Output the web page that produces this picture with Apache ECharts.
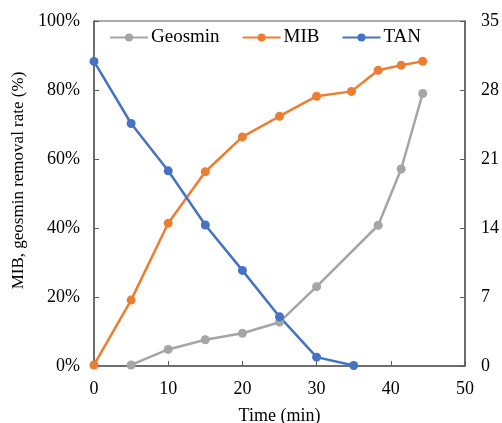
<!DOCTYPE html>
<html><head><meta charset="utf-8">
<script src="https://cdn.jsdelivr.net/npm/echarts@6/dist/echarts.min.js"></script>
<style>html,body{margin:0;padding:0;background:#fff}#c{width:502px;height:423px}</style>
</head><body><div id="c"></div>
<script>
var geosminTime = [5, 10, 15, 20, 25, 30, 38.3, 41.4, 44.3];
var geosminRate = [0.3, 4.8, 7.6, 9.5, 12.7, 23.0, 40.8, 57.1, 79.0];
var mibTime = [0, 5, 10, 15, 20, 25, 30, 34.7, 38.3, 41.4, 44.3];
var mibRate = [0.3, 19.1, 41.4, 56.3, 66.4, 72.4, 78.2, 79.6, 85.7, 87.2, 88.3];
var tanTime = [0, 5, 10, 15, 20, 25, 30, 35];
var tanValue = [30.9, 24.6, 19.8, 14.3, 9.7, 5.0, 0.9, 0.05];
var leftTicks = ['0%', '20%', '40%', '60%', '80%', '100%'];
var rightTicks = ['0', '7', '14', '21', '28', '35'];

function pairs(xs, ys){ return xs.map(function(x,i){ return [x, ys[i]]; }); }
var font = 'Liberation Serif';
var axisCol = '#595959';
var chart = echarts.init(document.getElementById('c'), null, {renderer:'canvas'});
chart.setOption({
  animation: false,
  textStyle: {fontFamily: font},
  grid: {left: 94, right: 37, top: 21, bottom: 57, show: true, borderColor: axisCol, borderWidth: 1,
         containLabel: false, outerBoundsMode: 'none'},
  legend: {
    top: 23, left: 104, itemWidth: 38, itemHeight: 10, itemGap: 22,
    textStyle: {fontFamily: font, fontSize: 19, color: '#000', padding: [0,0,0,-2]},
    data: ['Geosmin', 'MIB', 'TAN']
  },
  xAxis: {
    type: 'value', min: 0, max: 50, interval: 10,
    name: 'Time (min)', nameLocation: 'middle', nameGap: 41,
    nameTextStyle: {fontFamily: font, fontSize: 18, color: '#000'},
    axisLine: {lineStyle: {color: axisCol, width: 1.5}},
    axisTick: {inside: true, length: 5, lineStyle: {color: axisCol}},
    axisLabel: {fontFamily: font, fontSize: 18, color: '#000', margin: 14},
    splitLine: {show: false}
  },
  yAxis: [{
    type: 'value', min: 0, max: 100, interval: 20, position: 'left',
    name: 'MIB, geosmin removal rate (%)', nameLocation: 'middle', nameGap: 54,
    nameTextStyle: {fontFamily: font, fontSize: 17, color: '#000', padding: [0,0,0,26]},
    axisLine: {show: true, lineStyle: {color: axisCol, width: 1.5}},
    axisTick: {show: true, inside: true, length: 5, lineStyle: {color: axisCol}},
    axisLabel: {fontFamily: font, fontSize: 18, color: '#000', margin: 14,
      formatter: function(v){ return leftTicks[Math.round(v/20)]; }},
    splitLine: {show: false}
  }, {
    type: 'value', min: 0, max: 35, interval: 7, position: 'right',
    axisLine: {show: true, lineStyle: {color: axisCol, width: 1.5}},
    axisTick: {show: true, inside: true, length: 5, lineStyle: {color: axisCol}},
    axisLabel: {fontFamily: font, fontSize: 18, color: '#000', margin: 16,
      formatter: function(v){ return rightTicks[Math.round(v/7)]; }},
    splitLine: {show: false}
  }],
  series: [{
    name: 'Geosmin', type: 'line', yAxisIndex: 0, data: pairs(geosminTime, geosminRate),
    symbol: 'circle', symbolSize: 9, color: '#A5A5A5', lineStyle: {width: 2.5}
  }, {
    name: 'MIB', type: 'line', yAxisIndex: 0, data: pairs(mibTime, mibRate),
    symbol: 'circle', symbolSize: 9, color: '#ED7D31', lineStyle: {width: 2.5}
  }, {
    name: 'TAN', type: 'line', yAxisIndex: 1, data: pairs(tanTime, tanValue),
    symbol: 'circle', symbolSize: 9, color: '#4472C4', lineStyle: {width: 2.5}
  }]
});
</script></body></html>
